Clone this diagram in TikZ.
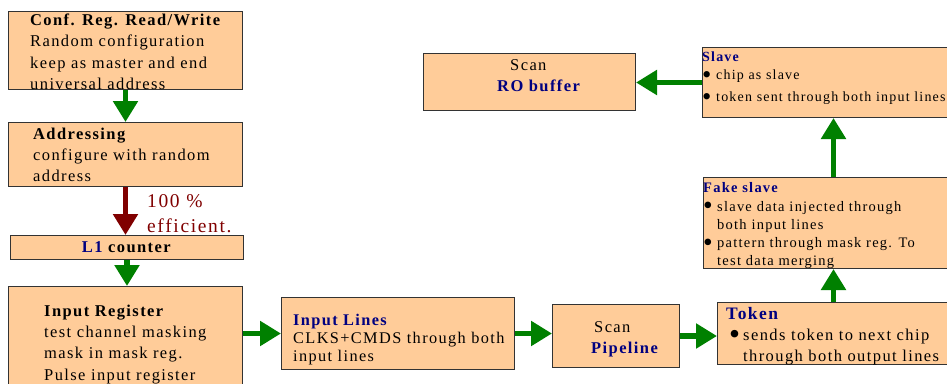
\documentclass[tikz,border=0pt]{standalone}
\usepackage{fontspec}
\setmainfont{Liberation Serif}[LetterSpace=8.5]
\usetikzlibrary{positioning,arrows.meta}
\definecolor{boxfill}{RGB}{255,204,153}
\definecolor{navy}{RGB}{0,0,128}
\definecolor{darkred}{RGB}{128,0,0}
\definecolor{flowgreen}{RGB}{0,128,0}
\tikzset{
box/.style={draw=black!80, fill=boxfill, line width=1pt, rectangle, anchor=north west, inner sep=0pt},
txt/.style={anchor=north west, inner sep=0pt, align=left, font=\fontsize{16.5}{21.3}\selectfont},
small/.style={txt, font=\fontsize{14.5}{18.3}\selectfont},
flow/.style={draw=flowgreen, line width=5.5pt, -{Triangle[length=21pt,width=24pt]}},
hit/.style={flow, draw=darkred},
}
\newcommand\bul{\makebox[14pt][l]{\smash{\raisebox{-3.5pt}{\scalebox{1.9}{\textbullet}}}}}

\begin{document}
\begin{tikzpicture}[x=1pt,y=-1pt]
\useasboundingbox (0,0) rectangle (947,383);
\clip (0,0) rectangle (947,383);
% boxes
\node[box, minimum width=234pt, minimum height=78pt] at (8,11) (conf) {};
\node[box, minimum width=234pt, minimum height=64pt] at (8,122) (addr) {};
\node[box, minimum width=233pt, minimum height=24pt] at (10,235) (l1) {};
\node[box, minimum width=234pt, minimum height=114pt] at (8,286) (inreg) {};
\node[box, minimum width=233pt, minimum height=72pt] at (281,297) (inlines) {};
\node[box, minimum width=127pt, minimum height=63pt] at (552,304) (pipe) {};
\node[box, minimum width=232pt, minimum height=62pt] at (717,302) (token) {};
\node[box, minimum width=260pt, minimum height=91pt] at (703,177) (fake) {};
\node[box, minimum width=262pt, minimum height=70pt] at (702,47) (slave) {};
\node[box, minimum width=212pt, minimum height=57pt] at (423,53) (robuf) {};
% texts
\node[txt] at ([shift={(22,2.6)}]conf.north west) (conftxt) {\textbf{Conf. Reg. Read/Write}\\Random configuration\\keep as master and end\\universal address};
\node[txt] at ([shift={(25,5.6)}]addr.north west) (addrtxt) {\textbf{Addressing}\\configure with random\\address};
\node[txt, anchor=center] at (l1) (l1txt) {\textbf{\textcolor{navy}{L1} counter}};
\node[txt] at ([shift={(36,18.6)}]inreg.north west) (inregtxt) {\textbf{Input Register}\\test channel masking\\mask in mask reg.\\Pulse input register};
\node[txt, font=\fontsize{16.3}{18}\selectfont] at ([shift={(12,17)}]inlines.north west) (inlinestxt) {\textbf{\textcolor{navy}{Input Lines}}\\CLKS+CMDS through both\\input lines};
\node[txt] at ([shift={(39,17)}]pipe.north west) (pipetxt) {\hspace*{3pt}Scan\\\textbf{\textcolor{navy}{Pipeline}}};
\node[txt] at ([shift={(74,6)}]robuf.north west) (robuftxt) {\hspace*{13pt}Scan\\\textbf{\textcolor{navy}{RO buffer}}};
\node[txt, font=\fontsize{14}{18}\selectfont] at ([shift={(0,4.8)}]slave.north west) (slavetxt) {\textbf{\textcolor{navy}{Slave}}\\\bul chip as slave\\[4pt]\bul token sent through both input lines};
\node[small] at ([shift={(0,5.5)}]fake.north west) (faketxt) {\textbf{\textcolor{navy}{Fake slave}}\\\bul slave data injected through\\\hspace*{14pt}both input lines\\\bul pattern through mask reg. To\\\hspace*{14pt}test data merging};
\node[txt] at ([shift={(9,5)}]token.north west) (tokentxt) {\textbf{\textcolor{navy}{\fontsize{17.5}{21}\selectfont Token}}\\\hspace*{3pt}\bul sends token to next chip\\\hspace*{17pt}through both output lines};
\node[txt, font=\fontsize{19.5}{25}\selectfont, text=darkred] at (147,194) (eff) {100 \%\\efficient.};
% flow
\path
(conf.south) edge[flow] (addr.north)
(addr.south) edge[hit] (addr.south |- l1.north)
(l1.south) edge[flow] (l1.south |- inreg.north)
(inreg.east |- inlines.west) edge[flow] (inlines.west)
(inlines.east) edge[flow] (inlines.east -| pipe.west)
(pipe.east) edge[flow] (pipe.east -| token.west)
(token.north) edge[flow] (token.north |- fake.south)
(fake.north) edge[flow] (fake.north |- slave.south)
(slave.west) edge[flow] (slave.west -| robuf.east);
\end{tikzpicture}
\end{document}
